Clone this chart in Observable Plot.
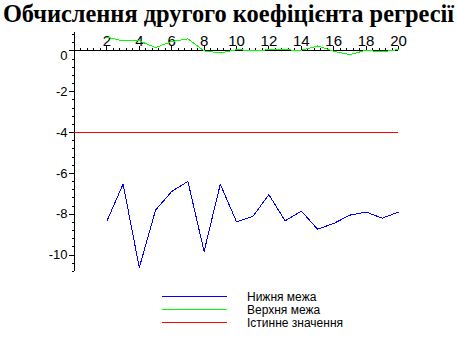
<!DOCTYPE html>
<html>
<head>
<meta charset="utf-8">
<script src="https://cdn.jsdelivr.net/npm/d3@7"></script>
<script src="https://cdn.jsdelivr.net/npm/@observablehq/plot@0.6"></script>
<style>
  html, body { margin: 0; padding: 0; background: #fff; }
  #wrap { position: relative; width: 457px; height: 340px; overflow: hidden; }
  #title { position: absolute; left: 0; top: 0; width: 457px; text-align: center;
           font: bold 24.4px "Liberation Serif", "Times New Roman", serif; line-height: 27px; color: #000; white-space: nowrap; }
  #chart { position: absolute; left: 0; top: 28px; }
  #legend { position: absolute; left: 162px; top: 290px; font: 12px "Liberation Sans", Arial, sans-serif; color: #000; }
  .row { height: 13px; display: flex; align-items: center; }
  .row svg { width: 65px; height: 13px; margin-right: 20px; }
</style>
</head>
<body>
<div id="wrap">
  <div id="title">Обчислення другого коефіцієнта регресії</div>
  <div id="chart"></div>
  <div id="legend"></div>
</div>
<script>
// ---- data ----
const steps = [2, 3, 4, 5, 6, 7, 8, 9, 10, 11, 12, 13, 14, 15, 16, 17, 18, 19, 20];
const lowerBound = [-8.33, -6.52, -10.61, -7.80, -6.88, -6.39, -9.82, -6.52, -8.37, -8.11, -7.04, -8.32, -7.84, -8.73, -8.45, -8.04, -7.89, -8.19, -7.89];
const upperBound = [0.67, 0.49, 0.49, 0.16, 0.46, 0.59, 0.00, -0.10, 0.06, 0.02, 0.05, 0.05, 0.03, 0.24, -0.02, -0.18, 0.03, -0.05, 0.07];
const trueValue = -4;
const xTickLabels = [2, 4, 6, 8, 10, 12, 14, 16, 18, 20];
const yTickLabels = [0, -2, -4, -6, -8, -10];
const seriesNames = ["Нижня межа", "Верхня межа", "Істинне значення"];
const seriesColors = ["#0000ff", "#00ff00", "#ff0000"];

const xDomain = [0, 20];
const yDomain = [-10.8, 0.9];

const lowerData = steps.map((s, i) => ({x: s, y: lowerBound[i]}));
const upperData = steps.map((s, i) => ({x: s, y: upperBound[i]}));
const minorX = d3.range(0, 20.001, 0.4).map(v => +v.toFixed(2));
const minorY = d3.range(-10.8, 0.801, 0.4).map(v => +v.toFixed(2));
const isMajor = d => Math.abs(d % 2) < 1e-6;

const tickFont = '"Liberation Sans Narrow", "Liberation Sans", Arial, sans-serif';

const plot = Plot.plot({
  width: 457,
  height: 250,
  marginTop: 4,
  marginBottom: 7,
  marginLeft: 74,
  marginRight: 59,
  x: {domain: xDomain, axis: null},
  y: {domain: yDomain, axis: null},
  style: {background: "transparent", overflow: "visible"},
  marks: [
    // axes lines
    Plot.ruleY([0], {x1: xDomain[0], x2: xDomain[1], stroke: "#000", strokeWidth: 1, shapeRendering: "crispEdges"}),
    Plot.ruleX([0], {y1: yDomain[0], y2: yDomain[1], stroke: "#000", strokeWidth: 1, shapeRendering: "crispEdges"}),
    // x ticks (upward)
    Plot.ruleX(minorX, {x: d => d, y1: 0, y2: d => (isMajor(d) ? 0.2 : 0.1), stroke: "#000", shapeRendering: "crispEdges"}),
    // y ticks (leftward)
    Plot.ruleY(minorY, {y: d => d, x1: d => (isMajor(d) ? -0.3 : -0.13), x2: 0, stroke: "#000", shapeRendering: "crispEdges"}),
    // x labels above axis
    Plot.text(xTickLabels, {x: d => d, y: 0, text: d => String(d), dy: -10, textAnchor: "middle", fontSize: 15, fontFamily: tickFont, fill: "#000"}),
    // y labels left of axis
    Plot.text(yTickLabels.filter(d => d !== 0), {x: 0, y: d => d, text: d => String(d), dx: -7, textAnchor: "end", fontSize: 13, fontFamily: tickFont, fill: "#000"}),
    Plot.text(yTickLabels.filter(d => d === 0), {x: 0, y: d => d, text: d => String(d), dx: -7, dy: 5, textAnchor: "end", fontSize: 13, fontFamily: tickFont, fill: "#000"}),
    // true value
    Plot.ruleY([trueValue], {x1: xDomain[0], x2: xDomain[1], stroke: seriesColors[2], strokeWidth: 1, shapeRendering: "crispEdges"}),
    // bounds
    Plot.line(lowerData, {x: "x", y: "y", stroke: seriesColors[0], strokeWidth: 1, shapeRendering: "crispEdges"}),
    Plot.line(upperData, {x: "x", y: "y", stroke: seriesColors[1], strokeWidth: 1, shapeRendering: "crispEdges"})
  ]
});
document.getElementById("chart").appendChild(plot);

// legend
const legend = d3.select("#legend");
seriesNames.forEach((name, i) => {
  const row = legend.append("div").attr("class", "row");
  const svg = row.append("svg");
  svg.append("line").attr("x1", 0).attr("x2", 65).attr("y1", 6.5).attr("y2", 6.5)
    .attr("stroke", seriesColors[i]).attr("stroke-width", 1).attr("shape-rendering", "crispEdges");
  row.append("span").text(name);
});
</script>
</body>
</html>
